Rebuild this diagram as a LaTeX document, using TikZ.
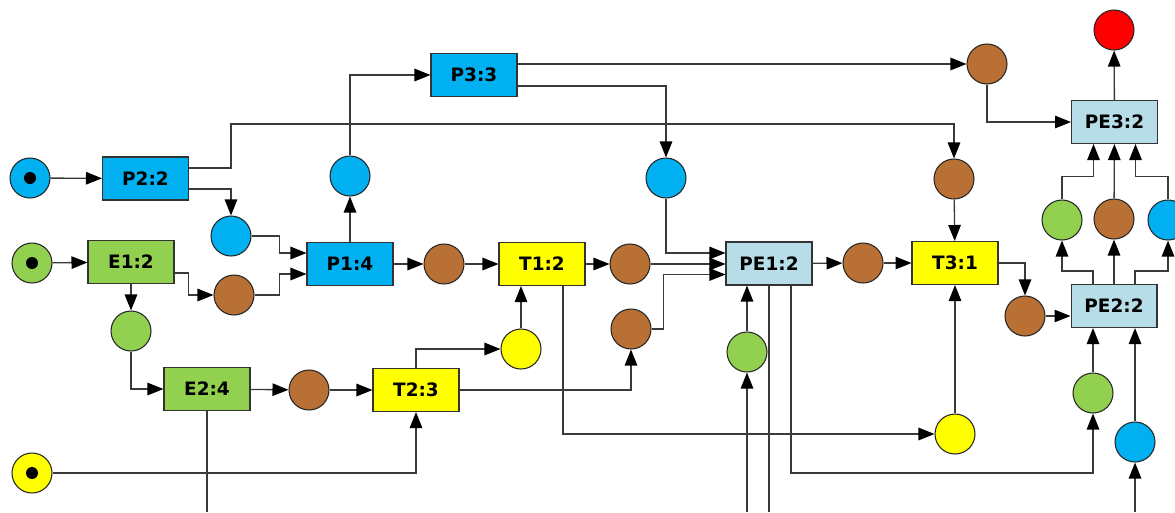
\documentclass[tikz,border=0pt]{standalone}
\usepackage{fontspec}
\setsansfont{DejaVu Sans}
\usetikzlibrary{arrows.meta,calc}
\definecolor{cblue}{HTML}{00B0F0}
\definecolor{cgreen}{HTML}{92D050}
\definecolor{cbrown}{HTML}{B87035}
\definecolor{cyellow}{HTML}{FFFF00}
\definecolor{cpe}{HTML}{B7DDE8}
\definecolor{cred}{HTML}{FF0000}
\definecolor{cline}{HTML}{3A3A3A}
\tikzset{
  place/.style={circle, draw=black!85, line width=0.6pt, minimum size=0.8cm, inner sep=0pt},
  token/.style={circle, fill=black, minimum size=0.24cm, inner sep=0pt},
  trans/.style={rectangle, draw=black!80, line width=0.6pt, minimum width=1.72cm, minimum height=0.86cm, inner sep=0pt, font=\sffamily\bfseries\fontsize{10.5}{12}\selectfont},
  arc/.style={draw=cline, line width=0.75pt, -{Triangle[length=0.32cm,width=0.25cm,color=black,fill=black]}},
  plain/.style={draw=cline, line width=0.75pt}
}
\begin{document}
\begin{tikzpicture}[x=0.02cm,y=-0.02cm]
\useasboundingbox (0,0) rectangle (1175,512);
\coordinate (bot) at (0,512);
% transitions
\node[trans, fill=cblue] (P2) at (145.5,178.5) {P2:2};
\node[trans, fill=cgreen] (E1) at (131,262) {E1:2};
\node[trans, fill=cblue] (P3) at (474,75) {P3:3};
\node[trans, fill=cblue] (P1) at (350,264) {P1:4};
\node[trans, fill=cyellow] (T1) at (542,264) {T1:2};
\node[trans, fill=cgreen] (E2) at (207,389) {E2:4};
\node[trans, fill=cyellow] (T2) at (416,390) {T2:3};
\node[trans, fill=cpe] (PE1) at (769,263.5) {PE1:2};
\node[trans, fill=cyellow] (T3) at (955,263) {T3:1};
\node[trans, fill=cpe] (PE3) at (1114.5,122) {PE3:2};
\node[trans, fill=cpe] (PE2) at (1114,306) {PE2:2};
% places
\node[place, fill=cblue] (bS) at (30,178) {};
\node[token] (tb) at (bS) {};
\node[place, fill=cgreen] (gS) at (32,263) {};
\node[token] (tg) at (gS) {};
\node[place, fill=cyellow] (yS) at (32,473) {};
\node[token] (ty) at (yS) {};
\node[place, fill=cblue] (b1) at (231,236) {};
\node[place, fill=cbrown] (br1) at (234,295) {};
\node[place, fill=cgreen] (g1) at (131,331) {};
\node[place, fill=cblue] (b2) at (350,176) {};
\node[place, fill=cbrown] (br2) at (444,264) {};
\node[place, fill=cbrown] (br3) at (630,264) {};
\node[place, fill=cblue] (b3) at (666,178) {};
\node[place, fill=cbrown] (br4) at (631,329) {};
\node[place, fill=cyellow] (y1) at (521,349) {};
\node[place, fill=cbrown] (br5) at (309,390) {};
\node[place, fill=cgreen] (g2) at (747,352) {};
\node[place, fill=cbrown] (br6) at (863,263) {};
\node[place, fill=cbrown] (br7) at (954,179) {};
\node[place, fill=cbrown] (br8) at (987,64) {};
\node[place, fill=cred] (r) at (1114,30) {};
\node[place, fill=cgreen] (g3) at (1062,220) {};
\node[place, fill=cbrown] (br9) at (1114,219) {};
\node[place, fill=cblue] (b4) at (1168,220) {};
\node[place, fill=cbrown] (br10) at (1025,316) {};
\node[place, fill=cyellow] (y2) at (955,434) {};
\node[place, fill=cgreen] (g4) at (1093,393) {};
\node[place, fill=cblue] (b5) at (1135,442) {};
\coordinate (w2) at (231,124);
\coordinate (w28) at (1093,473);
% connectors
\draw[arc] (bS) -- (P2);
\draw[arc] ([yshift=0.21cm]P2.east) -| (w2) -| (br7);
\draw[arc] ([yshift=-0.21cm]P2.east) -| (b1);
\draw[arc] (b1.east) -- ++(0.56cm,0) |- ([yshift=0.22cm]P1.west);
\draw[arc] (br1.east) -- ++(0.5cm,0) |- ([yshift=-0.2cm]P1.west);
\draw[arc] (gS) -- (E1);
\draw[arc] (E1) -- (g1);
\draw[arc] ([yshift=-0.22cm]E1.east) -- ++(0.28cm,0) |- (br1);
\draw[arc] (g1) |- (E2);
\draw[arc] (E2) -- (br5);
\draw[arc] (br5) -- (T2);
\draw[plain] (E2.south) -- (E2.south |- bot);
\draw[arc] (yS) -| (T2);
\draw[arc] (T2.north) |- (y1);
\draw[arc] (T2.east) -| (br4);
\draw[arc] (y1) -- (y1 |- T1.south);
\draw[arc] (P1) -- (br2);
\draw[arc] (br2) -- (T1);
\draw[arc] (T1) -- (br3);
\draw[arc] (P1) -- (b2);
\draw[arc] (b2) |- (P3);
\draw[arc] (P3.east |- br8) -- (br8);
\draw[arc] ([yshift=-0.22cm]P3.east) -| (b3);
\draw[arc] (b3) |- ([yshift=0.21cm]PE1.west);
\draw[arc] (br3) -- (br3 -| PE1.west);
\draw[arc] (br4.east) -- ++(0.24cm,0) |- ([yshift=-0.22cm]PE1.west);
\draw[arc] (g2) -- (g2 |- PE1.south);
\draw[arc] (g2 |- bot) -- (g2);
\draw[plain] (PE1.south) -- (PE1.south |- bot);
\draw[arc] ([xshift=0.44cm]PE1.south) |- (w28) -- (g4);
\draw[arc] ([xshift=0.42cm]T1.south) |- (y2);
\draw[arc] (y2) -- (T3);
\draw[arc] (PE1) -- (br6);
\draw[arc] (br6) -- (T3);
\draw[arc] (br7) -- (T3);
\draw[arc] (T3.east) -| (br10);
\draw[arc] (br10) -- (br10 -| PE2.west);
\draw[arc] (g4) -- (g4 |- PE2.south);
\draw[arc] (b5) -- (b5 |- PE2.south);
\draw[arc] (b5 |- bot) -- (b5);
\draw[arc] ([xshift=-0.42cm]PE2.north) -- ++(0,0.26cm) -| (g3);
\draw[arc] (PE2) -- (br9);
\draw[arc] ([xshift=0.42cm]PE2.north) -- ++(0,0.26cm) -| (b4);
\draw[arc] (g3.north) -- ++(0,0.46cm) -| ([xshift=-0.42cm]PE3.south);
\draw[arc] (br9) -- (PE3);
\draw[arc] (b4.north) -- ++(0,0.46cm) -| ([xshift=0.42cm]PE3.south);
\draw[arc] (PE3) -- (r);
\draw[arc] (br8) |- (PE3);
\end{tikzpicture}
\end{document}
